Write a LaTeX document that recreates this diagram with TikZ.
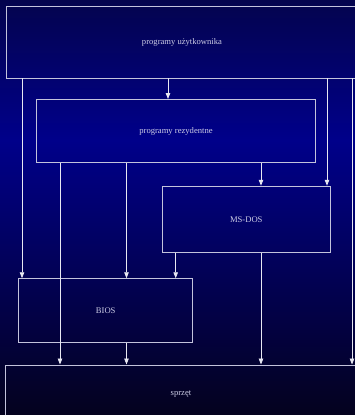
\documentclass[tikz,border=0pt]{standalone}
\usepackage{fontspec}
\setmainfont{Liberation Serif}
\usetikzlibrary{arrows.meta}
\definecolor{bgtop}{RGB}{4,4,78}
\definecolor{bgmid}{RGB}{0,0,138}
\definecolor{bgbot}{RGB}{4,2,30}
\definecolor{boxline}{RGB}{195,195,220}
\definecolor{arrline}{RGB}{232,232,242}
\definecolor{txt}{RGB}{205,205,230}
\tikzset{
  blk/.style={draw=boxline, line width=0.9pt, rectangle, inner sep=0pt,
    text=txt, font=\fontsize{8.6}{10}\selectfont},
  arr/.style={draw=arrline, line width=0.8pt, -{Triangle[length=6pt,width=4.5pt]}},
}
\begin{document}
\begin{tikzpicture}[x=1pt,y=-1pt]
\useasboundingbox (0,0) rectangle (355,415);
\clip (0,0) rectangle (355,415);
\shade[top color=bgtop, bottom color=bgmid] (0,0) rectangle (355,140);
\shade[top color=bgmid, bottom color=bgbot] (0,140) rectangle (355,415);
\node[blk, minimum width=380pt, minimum height=72pt] (usr) at (196,42) {\hspace*{-28pt}programy użytkownika};
\node[blk, minimum width=279pt, minimum height=63pt] (res) at (176,131) {programy rezydentne};
\node[blk, minimum width=167.5pt, minimum height=66pt] (dos) at (246.25,219.2) {MS-DOS};
\node[blk, minimum width=174pt, minimum height=64pt] (bios) at (105.7,310.7) {BIOS};
\node[blk, minimum width=380pt, minimum height=58pt] (hw) at (195,394) {\hspace*{-28pt}\raisebox{1.5pt}{sprzęt}};
\coordinate (c1) at (22,0);
\coordinate (c2) at (60,0);
\coordinate (c3) at (126.5,0);
\coordinate (c4) at (168,0);
\coordinate (c5) at (175.7,0);
\coordinate (c6) at (261,0);
\coordinate (c7) at (327,0);
\coordinate (c8) at (352,0);
\draw[arr] (usr.south -| c4) -- (res.north -| c4);
\draw[arr] (usr.south -| c1) -- (bios.north -| c1);
\draw[arr] (usr.south -| c7) -- (dos.north -| c7);
\draw[arr] (usr.south -| c8) -- (hw.north -| c8);
\draw[arr] (res.south -| c2) -- (hw.north -| c2);
\draw[arr] (res.south -| c3) -- (bios.north -| c3);
\draw[arr] (res.south -| c6) -- (dos.north -| c6);
\draw[arr] (dos.south -| c5) -- (bios.north -| c5);
\draw[arr] (dos.south -| c6) -- (hw.north -| c6);
\draw[arr] (bios.south -| c3) -- (hw.north -| c3);
\end{tikzpicture}
\end{document}
